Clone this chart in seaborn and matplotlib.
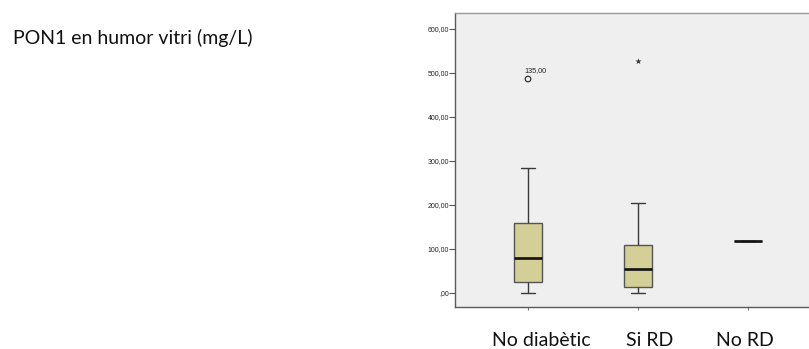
import matplotlib
matplotlib.use("Agg")
import matplotlib.pyplot as plt
import seaborn as sns
import pandas as pd

# Five-number summaries per group: min whisker, Q1, median, Q3, max whisker
groups = ["No diabètic", "Si RD", "No RD"]
no_diabetic = [0.0, 25.0, 79.0, 159.0, 284.0]
si_rd = [0.0, 14.0, 54.0, 108.0, 205.0]
no_rd = [118.0, 118.0, 118.0, 118.0, 118.0]

# Outlying cases drawn separately (SPSS style)
mild_outlier_group = ["No diabètic"]
mild_outlier_value = [486.0]
mild_outlier_case = ["135,00"]
extreme_outlier_group = ["Si RD"]
extreme_outlier_value = [527.0]

y_ticks = [0, 100, 200, 300, 400, 500, 600]
y_tick_labels = [",00", "100,00", "200,00", "300,00", "400,00", "500,00", "600,00"]

sns.set_style("white")
plt.rcParams["font.family"] = ["Liberation Sans", "DejaVu Sans"]

df = pd.DataFrame({
    "grup": [groups[0]] * len(no_diabetic) + [groups[1]] * len(si_rd) + [groups[2]] * len(no_rd),
    "pon1": no_diabetic + si_rd + no_rd,
})

fig = plt.figure(figsize=(8.09, 3.49), dpi=100)
ax = fig.add_axes([455 / 809, 1 - 307 / 349, (821 - 455) / 809, (307 - 13) / 349])
ax.set_facecolor("#efefef")

box_fill = "#d3cf97"
edge = "#3a3a3a"
sns.boxplot(
    data=df, x="grup", y="pon1", order=groups, ax=ax,
    width=0.255, whis=10, color=box_fill, saturation=1, fliersize=0,
    linewidth=1.0,
    boxprops=dict(facecolor=box_fill, edgecolor="#555555", linewidth=1.0),
    whiskerprops=dict(color=edge, linewidth=1.0),
    capprops=dict(color=edge, linewidth=1.0),
    medianprops=dict(color="#111111", linewidth=1.9),
)

pos = {g: i for i, g in enumerate(groups)}
sns.scatterplot(
    x=[pos[g] for g in mild_outlier_group], y=mild_outlier_value, ax=ax,
    marker="o", s=16, facecolor="none", edgecolor="#333333", linewidth=0.9, zorder=5,
)
for g, v, c in zip(mild_outlier_group, mild_outlier_value, mild_outlier_case):
    ax.text(pos[g] - 0.03, v + 12, c, fontsize=5.2, color="#222222", ha="left", va="bottom")
sns.scatterplot(
    x=[pos[g] for g in extreme_outlier_group], y=extreme_outlier_value, ax=ax,
    marker="*", s=22, color="#333333", linewidth=0, zorder=5,
)

ax.set_xlim(-0.664, 2.664)
ax.set_ylim(-32, 636)
ax.set_yticks(y_ticks)
ax.set_yticklabels(y_tick_labels, fontsize=5, color="#222222")
ax.set_xticks([0, 1, 2])
ax.set_xticklabels([])
ax.tick_params(axis="y", length=4, width=0.8, color="#555555", pad=0.5, left=True)
ax.tick_params(axis="x", length=2, width=0.8, color="#777777", bottom=True)
ax.set_xlabel("")
ax.set_ylabel("")

for side in ["left", "bottom"]:
    ax.spines[side].set_color("#5a5a5a")
    ax.spines[side].set_linewidth(1.0)
for side in ["top", "right"]:
    ax.spines[side].set_color("#9a9a9a")
    ax.spines[side].set_linewidth(1.0)

label_font = ["Lato", "DejaVu Sans"]
fig.text(13 / 809, 1 - 44 / 349, "PON1 en humor vitri (mg/L)", fontsize=14,
         family=label_font, ha="left", va="baseline", color="#111111")
for name, cx in zip(groups, [541, 650, 745]):
    fig.text(cx / 809, 1 - 346 / 349, name, fontsize=14, family=label_font,
             ha="center", va="baseline", color="#111111")

fig.savefig("out.png", dpi=100)
